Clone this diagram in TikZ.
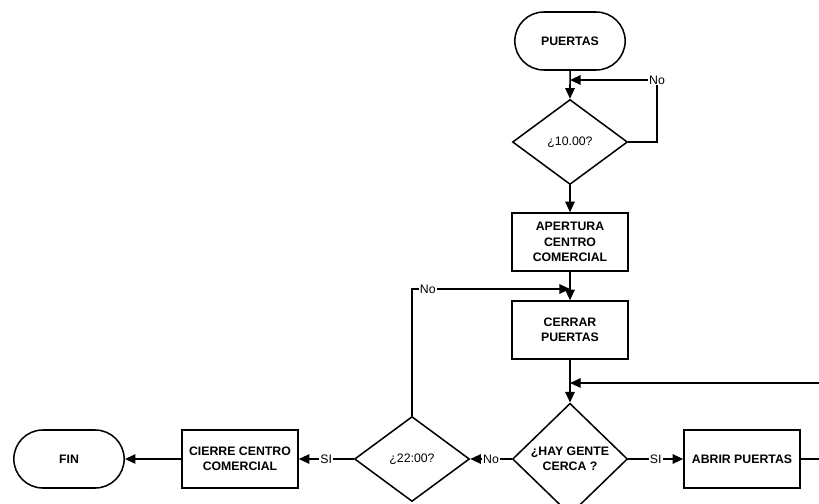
\documentclass[tikz,border=0pt]{standalone}
\usepackage{fontspec}
\setsansfont{Liberation Sans}
\usepackage{tikz}
\usetikzlibrary{shapes.geometric, shapes.misc, arrows.meta, positioning}
\tikzset{
  base/.style={draw, line width=1.3pt, align=center, inner sep=2pt,
    font=\sffamily\bfseries\fontsize{10.5}{13}\selectfont},
  terminal/.style={base, rounded rectangle, minimum width=3.45cm, minimum height=1.74cm},
  process/.style={base, rectangle, minimum width=3.48cm, minimum height=1.74cm},
  decision/.style={base, diamond, minimum width=3.45cm, minimum height=2.55cm},
  plain/.style={font=\sffamily\fontsize{10.5}{13}\selectfont},
  flow/.style={line width=1.3pt, -{Triangle[length=9pt,width=8pt]}},
  lbl/.style={fill=white, inner sep=1pt, font=\sffamily\fontsize{10.5}{11}\selectfont}
}

\begin{document}
\begin{tikzpicture}[x=0.03cm, y=-0.03cm]
\useasboundingbox (0,0) rectangle (819,503);
\clip (0,0) rectangle (819,503);
% main column
\node[terminal] (puertas) at (570,41) {PUERTAS};
\node[decision, plain] (diez) at (570,142) {¿10.00?};
\node[process] (apertura) at (570,242) {APERTURA\\CENTRO\\COMERCIAL};
\node[process] (cerrar) at (570,330) {CERRAR\\PUERTAS};
\node[decision] (gente) at (570,459) {¿HAY GENTE\\CERCA ?};
% bottom row
\node[process] (abrir) at (742,459) {ABRIR PUERTAS};
\node[decision, plain] (hora) at (412,459) {¿22:00?};
\node[process] (cierre) at (240,459) {CIERRE CENTRO\\COMERCIAL};
\node[terminal] (fin) at (69,459) {FIN};
% merge points and corners
\coordinate (m1) at (570,80);
\coordinate (m2) at (570,289);
\coordinate (m3) at (570,383);
\coordinate (c1) at (657,80);
\coordinate (c3) at (840,459);
\coordinate (c4) at (840,383);

\draw[flow] (puertas) -- (diez);
\draw[flow] (diez.east) -| (c1) -- (m1);
\node[lbl] (no1) at (c1) {No};
\draw[flow] (diez) -- (apertura);
\draw[flow] (apertura) -- (cerrar);
\draw[flow] (cerrar) -- (gente);
\draw[flow] (gente.east) -- node[lbl] {SI} (abrir);
\draw[flow] (abrir.east) -- (c3) -- (c4) -- (m3);
\draw[flow] (gente.west) -- node[lbl] {No} (hora.east);
\draw[flow] (hora.north) |- node[lbl, pos=0.55] {No} (m2);
\draw[flow] (hora.west) -- node[lbl] {SI} (cierre.east);
\draw[flow] (cierre) -- (fin);
\end{tikzpicture}
\end{document}
